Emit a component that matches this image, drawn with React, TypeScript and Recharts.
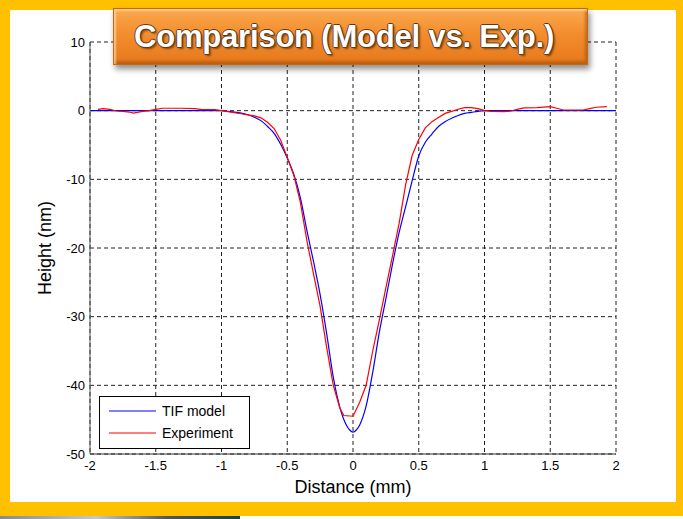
import { CartesianGrid, Line, LineChart, XAxis, YAxis } from "recharts"

// TIF model profile (distance in mm, height in nm)
const modelDistance = [
  -2, -1.5, -1, -0.95, -0.9, -0.85, -0.8, -0.75, -0.7, -0.65, -0.6, -0.55, -0.5, -0.45, -0.4, -0.35, -0.3, -0.25,
  -0.2, -0.15, -0.1, -0.05, -0.025, 0, 0.025, 0.05, 0.1, 0.15, 0.2, 0.25, 0.3, 0.35, 0.4, 0.45, 0.5, 0.55, 0.6, 0.65,
  0.7, 0.75, 0.8, 0.85, 0.9, 0.95, 1, 1.5, 2,
]
const modelHeight = [
  0, 0, 0, -0.1, -0.2, -0.35, -0.6, -0.95, -1.45, -2.3, -3.3, -4.9, -6.9, -9.3, -12.7, -17.5, -22.0, -26.8, -32.5,
  -38.8, -43.2, -45.8, -46.5, -46.8, -46.5, -45.8, -43.0, -38.1, -32.3, -27.4, -22.4, -17.8, -14.0, -10.2, -6.6,
  -4.6, -3.4, -2.3, -1.6, -1.1, -0.7, -0.4, -0.25, -0.1, 0, 0, 0,
]

// measured profile
const expDistance = [
  -1.94, -1.9, -1.85, -1.8, -1.75, -1.7, -1.67, -1.6, -1.55, -1.5, -1.45, -1.3, -1.2, -1.15, -1.05, -1, -0.95, -0.9,
  -0.85, -0.8, -0.75, -0.7, -0.65, -0.6, -0.55, -0.5, -0.45, -0.4, -0.35, -0.3, -0.25, -0.2, -0.15, -0.1, -0.07, 0,
  0.05, 0.1, 0.15, 0.2, 0.25, 0.3, 0.35, 0.4, 0.45, 0.5, 0.55, 0.6, 0.65, 0.7, 0.75, 0.8, 0.85, 0.9, 0.95, 1, 1.05,
  1.15, 1.2, 1.25, 1.3, 1.4, 1.5, 1.55, 1.6, 1.75, 1.8, 1.85, 1.93,
]
const expHeight = [
  0.2, 0.3, 0.2, -0.05, -0.1, -0.2, -0.35, -0.1, 0, 0.2, 0.35, 0.35, 0.3, 0.15, 0.15, 0, -0.15, -0.3, -0.45, -0.6,
  -0.75, -1.05, -1.7, -2.6, -4.3, -6.8, -9.4, -13.4, -19.0, -23.8, -28.5, -34.5, -40.0, -43.3, -44.4, -44.5, -42.5,
  -40.0, -35.0, -30.5, -25.8, -21.2, -16.5, -10.8, -6.5, -4.2, -2.5, -1.6, -1.0, -0.4, -0.1, 0.2, 0.45, 0.45, 0.3,
  0, -0.1, -0.15, -0.05, 0.2, 0.4, 0.45, 0.6, 0.35, 0.1, 0.1, 0.3, 0.5, 0.6,
]

const xTicks = [-2, -1.5, -1, -0.5, 0, 0.5, 1, 1.5, 2]
const yTicks = [10, 0, -10, -20, -30, -40, -50]

const modelData = modelDistance.map((d, i) => ({ d, h: modelHeight[i] }))
const expData = expDistance.map((d, i) => ({ d, h: expHeight[i] }))

const series = [
  { name: "TIF model", color: "#0000FF", data: modelData, curve: "monotone" as const },
  { name: "Experiment", color: "#FF0000", data: expData, curve: "linear" as const },
]

const font = '"Liberation Sans", Arial, sans-serif'

export default function App() {
  return (
    <div style={{ position: "absolute", left: 0, top: 0, width: 683, height: 519, background: "#fff", overflow: "hidden" }}>
      {/* yellow frame */}
      <div style={{ position: "absolute", left: 0, top: 0, width: 683, height: 516, background: "#FFC000" }} />
      <div style={{ position: "absolute", left: 10, top: 10, width: 666, height: 492, background: "#fff" }} />
      <div
        style={{
          position: "absolute",
          left: 0,
          top: 516,
          width: 240,
          height: 3,
          background: "linear-gradient(90deg, #8a8a8a, #c8c8c8 40%, #555 70%, #1d3f45)",
        }}
      />

      <div style={{ position: "absolute", left: 0, top: 0 }}>
        <LineChart
          width={683}
          height={519}
          margin={{ top: 42, right: 67, bottom: 35, left: 50 }}
          style={{ fontFamily: font }}
        >
          <CartesianGrid stroke="#222" strokeDasharray="4 3" horizontalValues={yTicks} verticalValues={xTicks} />
          <XAxis
            dataKey="d"
            type="number"
            domain={[-2, 2]}
            ticks={xTicks}
            allowDataOverflow
            height={30}
            tickLine={false}
            tickSize={5}
            tickMargin={2}
            stroke="#333"
            tick={{ fill: "#000", fontSize: 13 }}
            label={{ value: "Distance (mm)", position: "bottom", offset: -4, fill: "#000", fontSize: 18 }}
          />
          <XAxis xAxisId="top" dataKey="d" type="number" domain={[-2, 2]} orientation="top" height={0} tick={false} tickLine={false} stroke="#333" />
          <YAxis
            type="number"
            domain={[-50, 10]}
            ticks={yTicks}
            allowDataOverflow
            width={40}
            tickLine={false}
            tickSize={5}
            tickMargin={0}
            stroke="#555"
            tick={{ fill: "#000", fontSize: 13 }}
            label={{
              value: "Height (nm)",
              angle: -90,
              position: "insideLeft",
              offset: -5,
              fill: "#000",
              fontSize: 18,
              style: { textAnchor: "middle" },
            }}
          />
          <YAxis yAxisId="right" orientation="right" domain={[-50, 10]} width={0} tick={false} tickLine={false} stroke="#333" />
          {series.map((s) => (
            <Line
              key={s.name}
              type={s.curve}
              data={s.data}
              dataKey="h"
              name={s.name}
              stroke={s.color}
              strokeWidth={1.2}
              dot={false}
              isAnimationActive={false}
            />
          ))}
        </LineChart>
      </div>

      {/* legend box, lower left of the plot */}
      <div
        style={{
          position: "absolute",
          left: 99,
          top: 396,
          width: 151,
          height: 53,
          boxSizing: "border-box",
          border: "1px solid #000",
          background: "#fff",
          paddingTop: 3,
          fontFamily: font,
          fontSize: 14,
        }}
      >
        {series.map((s) => (
          <div key={s.name} style={{ display: "flex", alignItems: "center", height: 22 }}>
            <svg width={56} height={6} style={{ display: "block" }}>
              <line x1={9} y1={3} x2={56} y2={3} stroke={s.color} strokeWidth={1.2} />
            </svg>
            <span style={{ marginLeft: 6, color: "#000" }}>{s.name}</span>
          </div>
        ))}
      </div>

      {/* title banner */}
      <div
        style={{
          position: "absolute",
          left: 113,
          top: 8,
          width: 475,
          height: 57,
          boxSizing: "border-box",
          background: "linear-gradient(180deg, #FBA94E 0%, #F38D2E 45%, #E6791C 100%)",
          border: "1px solid #C86812",
          boxShadow: "2px 4px 6px rgba(0,0,0,0.45), inset 2px 2px 2px rgba(255,220,170,0.7), inset -2px -3px 3px rgba(150,70,0,0.5)",
          display: "flex",
          alignItems: "center",
          paddingLeft: 20,
          fontFamily: font,
          fontWeight: 700,
          fontSize: 31,
          letterSpacing: -0.2,
          color: "#fff",
          textShadow:
            "1px 0 0 #5b3a1a, -1px 0 0 #5b3a1a, 0 1px 0 #5b3a1a, 0 -1px 0 #5b3a1a, 2px 2px 2px rgba(60,30,0,0.6)",
          whiteSpace: "nowrap",
        }}
      >
        Comparison (Model vs. Exp.)
      </div>
    </div>
  )
}
